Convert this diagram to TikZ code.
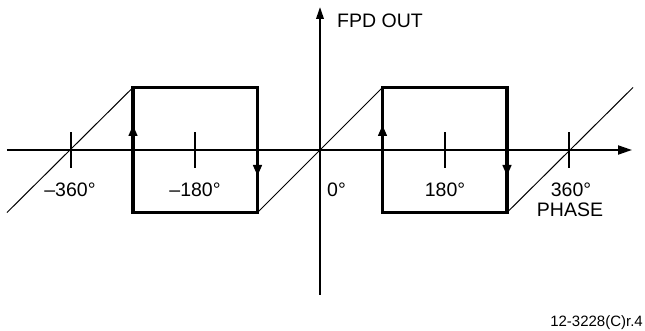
\documentclass[tikz,border=0pt]{standalone}
\usepackage{fontspec}
\setmainfont{Liberation Sans}
\usetikzlibrary{arrows.meta}
\begin{document}
\begin{tikzpicture}[x=1pt,y=1pt,
  axis/.style={line width=2pt},
  thin/.style={line width=1pt},
  thick box/.style={line width=3.6pt, line cap=butt, line join=miter},
  lbl/.style={inner sep=0pt, anchor=base, font=\fontsize{19.5}{23}\selectfont},
  dirtip/.style={-{Triangle[length=11pt,width=8.5pt]}, line width=3.6pt}]
\useasboundingbox (-320,-181) rectangle (325,150);
% coordinates
\coordinate (xs) at (-313,0);
\coordinate (xe) at (312,0);
\coordinate (ys) at (0,-145);
\coordinate (ye) at (0,143);
% axes
\draw[axis,-{Triangle[length=14pt,width=9pt]}] (xs) -- (xe);
\draw[axis,-{Triangle[length=12pt,width=7.5pt]}] (ys) -- (ye);
% ticks
\foreach \t/\n in {-249/a,-124.5/b,124.5/c,249/d}{
  \coordinate (t\n1) at (\t,-18);
  \coordinate (t\n2) at (\t,18);
  \draw[axis] (t\n1) -- (t\n2);
}
% diagonals
\coordinate (d1a) at (-313,-62.5); \coordinate (d1b) at (-187,62.5);
\coordinate (d2a) at (-62.5,-62.5); \coordinate (d2b) at (62.5,62.5);
\coordinate (d3a) at (187,-62.5); \coordinate (d3b) at (313,62.5);
\draw[thin] (d1a) -- (d1b);
\draw[thin] (d2a) -- (d2b);
\draw[thin] (d3a) -- (d3b);
% boxes
\coordinate (L1) at (-187,-62.5); \coordinate (L2) at (-62.5,62.5);
\coordinate (R1) at (62.5,-62.5); \coordinate (R2) at (187,62.5);
\draw[thick box] (L1) rectangle (L2);
\draw[thick box] (R1) rectangle (R2);
% direction arrows
\coordinate (la1) at (-187,8); \coordinate (la2) at (-187,25);
\coordinate (lb1) at (-62.5,-8); \coordinate (lb2) at (-62.5,-26);
\coordinate (ra1) at (62.5,8); \coordinate (ra2) at (62.5,25);
\coordinate (rb1) at (187,-8); \coordinate (rb2) at (187,-26);
\draw[dirtip] (la1) -- (la2);
\draw[dirtip] (lb1) -- (lb2);
\draw[dirtip] (ra1) -- (ra2);
\draw[dirtip] (rb1) -- (rb2);
% labels
\node[lbl] (m360) at (-250,-47) {–360°};
\node[lbl] (m180) at (-125,-47) {–180°};
\node[lbl,anchor=base west] (zero) at (7,-47) {0°};
\node[lbl] (p180) at (125,-47) {180°};
\node[lbl] (p360) at (251,-47) {360°};
\node[lbl] (phase) at (250,-67) {PHASE};
\node[lbl,anchor=base west] (fpd) at (17,122) {FPD OUT};
\node[inner sep=0pt, anchor=base east, font=\fontsize{15}{18}\selectfont] (ref) at (323,-176) {12-3228(C)r.4};
\end{tikzpicture}
\end{document}
